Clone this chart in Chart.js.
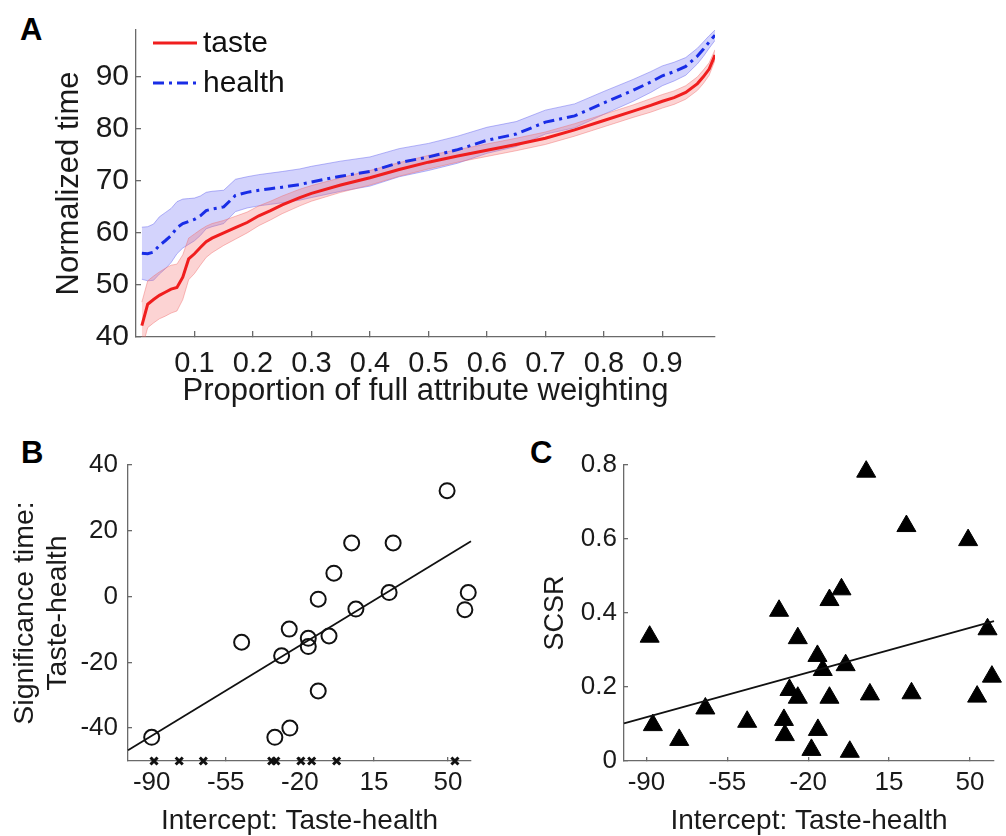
<!DOCTYPE html>
<html>
<head>
<meta charset="utf-8">
<script src="https://cdn.jsdelivr.net/npm/chart.js@4.4.0/dist/chart.umd.min.js"></script>
<style>
  body { margin: 0; width: 1006px; height: 836px; overflow: hidden; background: #fff; position: relative; }
  canvas { position: absolute; }
  .tag { position: absolute; font: bold 31px 'Liberation Sans', Arial, sans-serif; line-height: 1; color: #000; }
</style>
</head>
<body>
<div class="tag" style="left:20px;top:14px">A</div>
<div class="tag" style="left:21px;top:437px">B</div>
<div class="tag" style="left:530px;top:437px">C</div>
<canvas id="chartA" width="740" height="423" style="left:0;top:0"></canvas>
<canvas id="chartB" width="500" height="420" style="left:0;top:420px"></canvas>
<canvas id="chartC" width="506" height="420" style="left:500px;top:420px"></canvas>
<script>
// panel A: normalized time curves
const xA = [0.01, 0.02, 0.03, 0.04, 0.05, 0.06, 0.07, 0.08, 0.09, 0.10, 0.11, 0.12, 0.13, 0.15, 0.17, 0.19, 0.21, 0.23, 0.25, 0.28,
  0.30, 0.35, 0.40, 0.45, 0.50, 0.55, 0.60, 0.65, 0.70, 0.75, 0.80, 0.85, 0.88, 0.90, 0.92, 0.94, 0.96, 0.97, 0.98, 0.99];
const tasteMean = [42.2, 46.3, 47.2, 48.0, 48.6, 49.2, 49.5, 51.5, 55.0, 56.0, 57.2, 58.3, 59.0, 60.0, 61.0, 62.0, 63.3, 64.3, 65.4, 66.8,
  67.6, 69.2, 70.6, 72.2, 73.6, 74.8, 75.9, 77.0, 78.2, 79.8, 81.6, 83.4, 84.5, 85.3, 86.0, 87.0, 88.7, 90.0, 91.5, 94.2];
const tasteErr = [4.5, 4.5, 4.5, 4.5, 4.6, 4.6, 4.5, 4.3, 4.0, 3.8, 3.4, 3.0, 2.8, 2.4, 2.2, 2.0, 1.9, 1.8, 1.7, 1.6,
  1.5, 1.4, 1.4, 1.3, 1.3, 1.2, 1.2, 1.2, 1.2, 1.2, 1.2, 1.2, 1.3, 1.3, 1.3, 1.3, 1.3, 1.3, 1.2, 1.0];
const healthMean = [56.1, 56.0, 56.3, 57.6, 58.5, 59.5, 61.0, 61.8, 62.2, 62.6, 63.3, 64.3, 64.6, 65.0, 67.2, 67.8, 68.2, 68.5, 68.8, 69.3,
  69.8, 70.9, 71.8, 73.5, 74.6, 76.0, 77.8, 79.0, 81.3, 82.5, 85.0, 87.4, 89.0, 90.2, 91.0, 92.0, 94.0, 95.3, 96.7, 98.0];
const healthErr = [5.0, 5.2, 5.4, 5.5, 5.4, 5.2, 5.0, 4.7, 4.4, 4.1, 3.8, 3.5, 3.4, 3.2, 3.1, 3.0, 3.0, 3.0, 3.0, 3.0,
  3.0, 2.9, 2.8, 2.7, 2.6, 2.6, 2.5, 2.4, 2.3, 2.3, 2.2, 2.1, 2.0, 1.9, 1.8, 1.7, 1.5, 1.4, 1.2, 1.0];
const ticksAx = [0.1, 0.2, 0.3, 0.4, 0.5, 0.6, 0.7, 0.8, 0.9];
const ticksAy = [40, 50, 60, 70, 80, 90];

// panel B: significance time vs intercept
const interceptB = [-90, -47.5, -28.6, -25, -31.8, -24.7, -16, -16, -11.3, -11.3, -6.2, -3.9, 4.5, 6.5, 22.2, 24.1, 49.6, 59.6, 58];
const sigTimeB = [-42.8, -13.9, -18, -9.9, -42.8, -40, -12.7, -15.2, -0.8, -28.7, -12, 7.1, 16.3, -3.8, 1.2, 16.3, 32.2, 1.2, -4];
const noSigB = [-88.9, -77, -65.6, -33.3, -31.3, -19.5, -14.4, -2.6, 53.3];
const fitBx = [-101.2, 60.9];
const fitBy = [-46.7, 16.8];

// panel C: SCSR vs intercept
const interceptC = [-88.6, -87.2, -75.8, -64.5, -46.4, -32.6, -30.5, -30.1, -28.1, -24.5, -24.5, -18.6, -16, -15.8, -13.7, -10.8, -10.8,
  -5.6, -3.8, -2, 5.1, 6.7, 22.5, 24.7, 49.2, 53.1, 57.6, 59.5];
const scsrC = [0.336, 0.097, 0.057, 0.142, 0.106, 0.406, 0.111, 0.07, 0.192, 0.171, 0.332, 0.03, 0.284, 0.084, 0.246, 0.171, 0.435,
  0.464, 0.259, 0.025, 0.782, 0.18, 0.635, 0.183, 0.597, 0.174, 0.356, 0.228];
const fitCx = [-99.7, 60.4];
const fitCy = [0.102, 0.378];

const ticksBCx = [-90, -55, -20, 15, 50];
const ticksBy = [-40, -20, 0, 20, 40];
const ticksCy = [0, 0.2, 0.4, 0.6, 0.8];

Chart.defaults.font.family = "'Liberation Sans', Arial, sans-serif";
Chart.defaults.color = '#1a1a1a';
Chart.defaults.animation = false;
Chart.defaults.responsive = false;
Chart.defaults.plugins.legend.display = false;
Chart.defaults.plugins.tooltip.enabled = false;

const AXIS = '#6a6a6a';
const pts = (xs, ys) => xs.map((x, i) => ({ x: x, y: ys[i] }));
const fixTicks = list => scale => { scale.ticks = list.map(v => ({ value: v })); };

function axis(opts) {
  return {
    type: 'linear',
    min: opts.min,
    max: opts.max,
    afterBuildTicks: fixTicks(opts.ticks),
    afterFit: opts.fit,
    border: { color: AXIS, width: 1.3 },
    grid: { drawOnChartArea: false, tickLength: opts.tl, color: AXIS, lineWidth: 1.3 },
    ticks: { padding: opts.pad, font: { size: opts.tickSize }, callback: opts.fmt || (v => String(v)) },
    title: { display: true, text: opts.title, font: { size: opts.titleSize, lineHeight: opts.lh || 1.2 }, padding: opts.titlePad }
  };
}

// legend drawn inside the plot, top-left: taste first, then health
const legendA = {
  id: 'legendA',
  afterDraw(chart) {
    const ctx = chart.ctx;
    const left = chart.chartArea.left;
    [1, 0].forEach((idx, row) => {
      const ds = chart.data.datasets[idx];
      const y = 43 + row * 40;
      ctx.save();
      ctx.strokeStyle = ds.borderColor;
      ctx.lineWidth = ds.borderWidth;
      ctx.setLineDash(ds.borderDash || []);
      ctx.beginPath();
      ctx.moveTo(left + 17, y);
      ctx.lineTo(left + 61, y);
      ctx.stroke();
      ctx.fillStyle = '#111';
      ctx.font = "30px 'Liberation Sans', Arial, sans-serif";
      ctx.textBaseline = 'middle';
      ctx.fillText(ds.label, left + 67, y + 1);
      ctx.restore();
    });
  }
};

const tasteUp = tasteMean.map((v, i) => v + tasteErr[i]);
const tasteLo = tasteMean.map((v, i) => v - tasteErr[i]);
const healthUp = healthMean.map((v, i) => v + healthErr[i]);
const healthLo = healthMean.map((v, i) => v - healthErr[i]);

// data sets listed top-most first: Chart.js paints the last one first
new Chart(document.getElementById('chartA'), {
  type: 'line',
  data: {
    datasets: [
      { label: 'health', data: pts(xA, healthMean), borderColor: 'rgb(25,45,230)', borderWidth: 3, borderDash: [11, 5, 3, 5], pointRadius: 0, fill: false },
      { label: 'taste', data: pts(xA, tasteMean), borderColor: 'rgb(240,30,30)', borderWidth: 3, pointRadius: 0, fill: false },
      { label: 'taste+', data: pts(xA, tasteUp), borderColor: 'rgba(240,110,110,0.45)', borderWidth: 1, pointRadius: 0, fill: '+1', backgroundColor: 'rgba(245,110,110,0.3)' },
      { label: 'taste-', data: pts(xA, tasteLo), borderColor: 'rgba(240,110,110,0.45)', borderWidth: 1, pointRadius: 0, fill: false },
      { label: 'health+', data: pts(xA, healthUp), borderColor: 'rgba(110,110,240,0.5)', borderWidth: 1, pointRadius: 0, fill: '+1', backgroundColor: 'rgba(120,120,245,0.33)' },
      { label: 'health-', data: pts(xA, healthLo), borderColor: 'rgba(110,110,240,0.5)', borderWidth: 1, pointRadius: 0, fill: false }
    ]
  },
  options: {
    layout: { padding: { top: 12, right: 25, left: 0, bottom: 0 } },
    scales: {
      x: axis({ min: 0, max: 0.99, ticks: ticksAx, fit: s => { s.height = 86; }, tl: -6, pad: 16, tickSize: 29,
        fmt: v => v.toFixed(1), title: 'Proportion of full attribute weighting', titleSize: 31, titlePad: { top: 0, bottom: 13 } }),
      y: axis({ min: 40, max: 99, ticks: ticksAy, fit: s => { s.width = 136; }, tl: -5, pad: 12, tickSize: 30,
        title: 'Normalized time', titleSize: 31, titlePad: { top: 51, bottom: 0 } })
    }
  },
  plugins: [legendA]
});

new Chart(document.getElementById('chartB'), {
  type: 'scatter',
  data: {
    datasets: [
      { type: 'line', data: pts(fitBx, fitBy), borderColor: '#111', borderWidth: 1.8, pointRadius: 0, clip: false },
      { data: pts(interceptB, sigTimeB), pointStyle: 'circle', pointRadius: 7.5, borderWidth: 2, borderColor: '#111', backgroundColor: 'rgba(0,0,0,0)', clip: false },
      { data: pts(noSigB, noSigB.map(() => -50)), pointStyle: 'crossRot', pointRadius: 5, borderWidth: 3, borderColor: '#111', clip: false }
    ]
  },
  options: {
    layout: { padding: { top: 45, right: 29, left: 0, bottom: 0 } },
    scales: {
      x: axis({ min: -101.2, max: 60.9, ticks: ticksBCx, fit: s => { s.height = 79; }, tl: -4, pad: 10.5, tickSize: 26,
        title: 'Intercept: Taste-health', titleSize: 28, titlePad: { top: 0, bottom: 2 } }),
      y: axis({ min: -50, max: 40, ticks: ticksBy, fit: s => { s.width = 128; }, tl: -4, pad: 14, tickSize: 26,
        title: ['Significance time:', 'Taste-health'], titleSize: 28.5, lh: 1.17, titlePad: { top: 8, bottom: 0 } })
    }
  }
});

new Chart(document.getElementById('chartC'), {
  type: 'scatter',
  data: {
    datasets: [
      { type: 'line', data: pts(fitCx, fitCy), borderColor: '#111', borderWidth: 1.8, pointRadius: 0, clip: false },
      { data: pts(interceptC, scsrC), pointStyle: 'triangle', pointRadius: 11, borderWidth: 1, borderColor: '#000', backgroundColor: '#000', clip: false }
    ]
  },
  options: {
    layout: { padding: { top: 45, right: 2, left: 0, bottom: 0 } },
    scales: {
      x: axis({ min: -99.7, max: 60.4, ticks: ticksBCx, fit: s => { s.height = 79; }, tl: -4, pad: 10.5, tickSize: 26,
        title: 'Intercept: Taste-health', titleSize: 28, titlePad: { top: 0, bottom: 2 } }),
      y: axis({ min: 0, max: 0.8, ticks: ticksCy, fit: s => { s.width = 124; }, tl: -4, pad: 11, tickSize: 26,
        fmt: v => (v === 0 ? '0' : v.toFixed(1)), title: 'SCSR', titleSize: 27, titlePad: { top: 39, bottom: 0 } })
    }
  }
});
</script>
</body>
</html>
